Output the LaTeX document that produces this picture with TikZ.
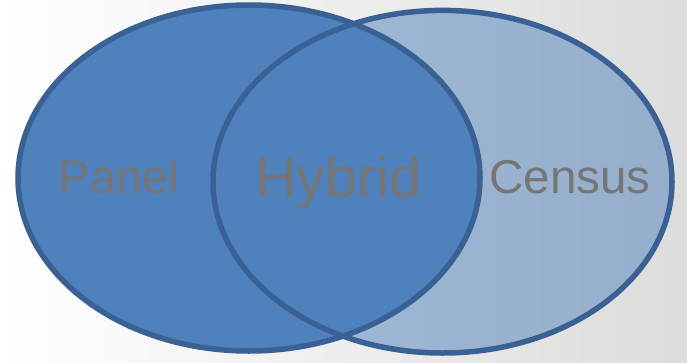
\documentclass[tikz,border=0pt]{standalone}
\usepackage{fontspec}
\setmainfont{Liberation Sans}
\definecolor{accent}{HTML}{4F81BD}
\definecolor{edge}{HTML}{3A6194}
\definecolor{txt}{HTML}{767676}
\definecolor{bgright}{HTML}{DCDCDC}
\tikzset{
  venn/.style={line width=5.5pt, draw=edge},
  lbl/.style={text=txt, anchor=base, inner sep=0pt}
}
\begin{document}
\begin{tikzpicture}[x=1pt,y=-1pt]
\shade[left color=white, right color=bgright] (0,0) rectangle (687,362);
\useasboundingbox (0,0) rectangle (687,362);
% right ellipse fill
\fill[accent, fill opacity=0.5] (442.5,181.7) ellipse [x radius=229.5, y radius=171.3];
% left ellipse
\draw[venn, fill=accent] (249,178) ellipse [x radius=231, y radius=173];
% right ellipse outline on top
\draw[venn] (442.5,181.7) ellipse [x radius=229.5, y radius=171.3];
\node[lbl, font=\fontsize{47}{50}\selectfont] (panel) at (119,193.5) {Panel};
\node[lbl, font=\fontsize{57.5}{60}\selectfont] (hybrid) at (338.5,197) {Hybrid};
\node[lbl, font=\fontsize{47.5}{50}\selectfont] (census) at (570,193.5) {Census};
\end{tikzpicture}
\end{document}
